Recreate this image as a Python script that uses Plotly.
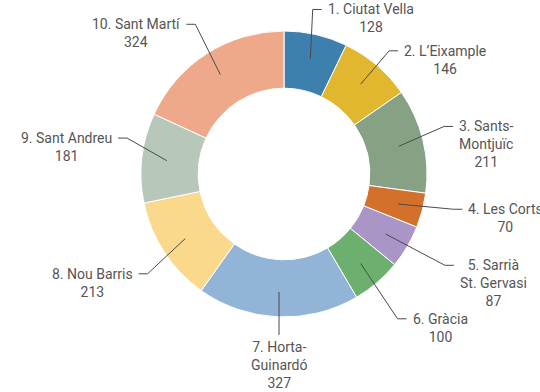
import math
import plotly.graph_objects as go

# Districts of Barcelona and their counts
districts = [
    "1. Ciutat Vella", "2. L’Eixample", "3. Sants-<br>Montjuïc", "4. Les Corts",
    "5. Sarrià<br>St. Gervasi", "6. Gràcia", "7. Horta-<br>Guinardó",
    "8. Nou Barris", "9. Sant Andreu", "10. Sant Martí",
]
counts = [128, 146, 211, 70, 87, 100, 327, 213, 181, 324]
colors = [
    "#3d7fad", "#e0b72f", "#87a185", "#d3712c", "#a996c6",
    "#6caf6e", "#92b4d6", "#fad98c", "#b7c8ba", "#eea98a",
]

# Canvas and donut geometry (pixels)
W, H = 540, 392
CX, CY, R = 284, 174, 143
ANCHOR_R = 118
# leader-line elbow: radius and angular nudge per slice (layout tuning)
elbow_r = [167, 162, 167, 173, 185, 184, 161, 169, 161, 174]
elbow_nudge = [-3, 0, -3, -3, -1, 2.5, -2.4, -3, 6.4, 2]

TEXT_COLOR = "#555555"
LINE_COLOR = "#4a4a4a"
FONT = dict(family="Roboto, 'Open Sans', sans-serif", size=14, color=TEXT_COLOR)


def px(x, y):
    return x / W, 1 - y / H


def polar(r, deg):
    a = math.radians(deg)
    return CX + r * math.sin(a), CY - r * math.cos(a)


fig = go.Figure(
    go.Pie(
        values=counts,
        labels=[d.replace("<br>", " ") for d in districts],
        marker=dict(colors=colors, line=dict(color="white", width=1)),
        hole=0.6,
        sort=False,
        direction="clockwise",
        rotation=0,
        textinfo="none",
        hoverinfo="label+value",
        domain=dict(x=[(CX - R) / W, (CX + R) / W],
                    y=[1 - (CY + R) / H, 1 - (CY - R) / H]),
        showlegend=False,
    )
)

total = sum(counts)
cum = 0
shapes, annotations = [], []
for i, (name, v) in enumerate(zip(districts, counts)):
    mid = 360 * (cum + v / 2) / total
    cum += v
    ax, ay = polar(ANCHOR_R, mid)
    ex, ey = polar(elbow_r[i], mid + elbow_nudge[i])
    s = math.sin(math.radians(mid + elbow_nudge[i]))
    text = f"{name}<br>{v}"
    if abs(s) < 0.1:
        # bottom label: straight drop, text centred below
        x0, y0 = px(ax, ay)
        x1, y1 = px(ax, ey)
        shapes.append(dict(type="path", xref="paper", yref="paper",
                           path=f"M {x0},{y0} L {x1},{y1}",
                           line=dict(color=LINE_COLOR, width=1)))
        tx, ty = px(ax, ey + 2)
        annotations.append(dict(x=tx, y=ty, xref="paper", yref="paper",
                                text=text, showarrow=False, xanchor="center",
                                yanchor="top", align="center", font=FONT))
        continue
    side = 1 if s > 0 else -1
    tail_x = ex + side * 9
    pts = [px(ax, ay), px(ex, ey), px(tail_x, ey)]
    path = "M " + " L ".join(f"{x},{y}" for x, y in pts)
    shapes.append(dict(type="path", xref="paper", yref="paper", path=path,
                       line=dict(color=LINE_COLOR, width=1)))
    tx, ty = px(tail_x + side * 4, ey - 10)
    annotations.append(dict(x=tx, y=ty, xref="paper", yref="paper",
                            text=text, showarrow=False,
                            xanchor="left" if side > 0 else "right",
                            yanchor="top", align="center", font=FONT))

fig.update_layout(
    width=W, height=H,
    margin=dict(l=0, r=0, t=0, b=0),
    paper_bgcolor="white", plot_bgcolor="white",
    shapes=shapes, annotations=annotations,
    font=FONT,
)

fig.write_html("out.html")
